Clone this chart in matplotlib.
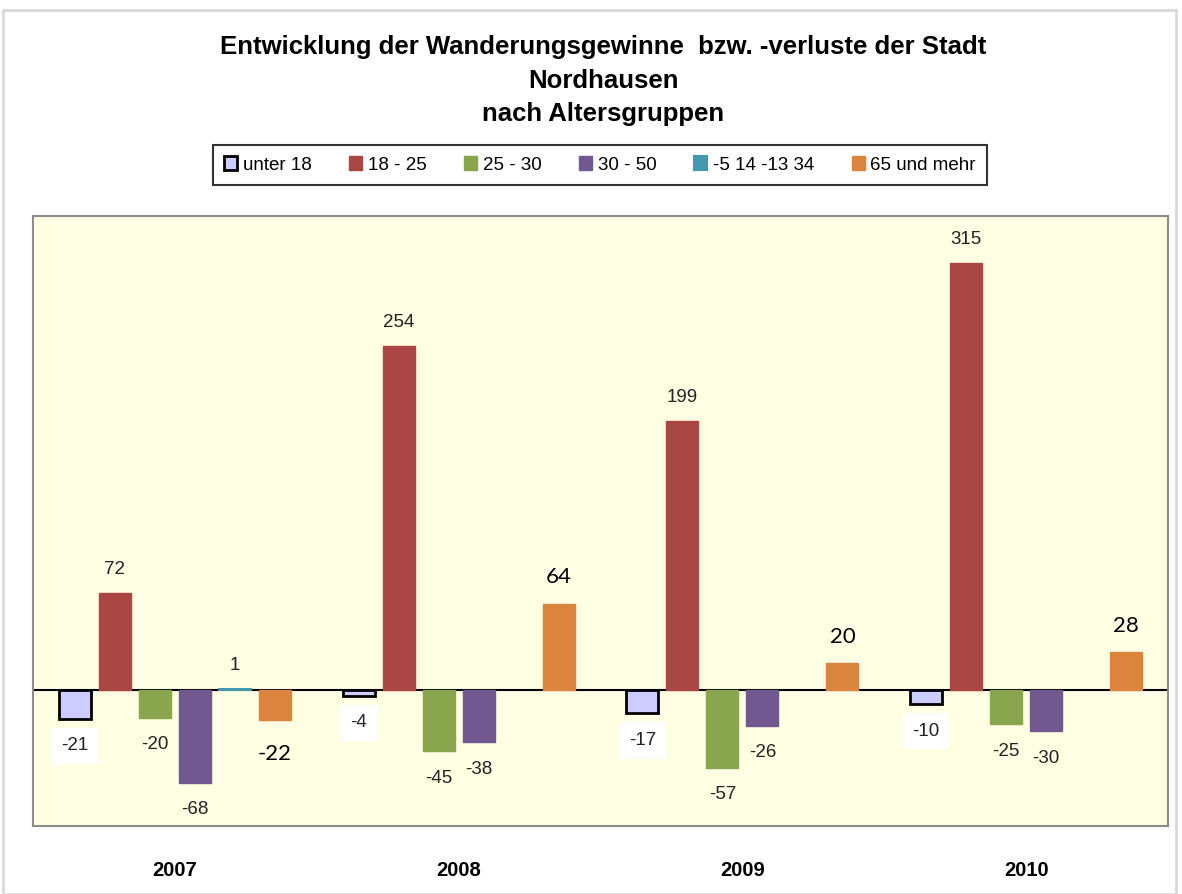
import numpy as np
import matplotlib.pyplot as plt
from matplotlib.patches import Rectangle

# Daten
jahre = ['2007', '2008', '2009', '2010']
gruppen = ['unter 18', '18 - 25', '25 - 30', '30 - 50', '-5 14 -13 34', '65 und mehr']
unter18 = [-21, -4, -17, -10]
g18_25 = [72, 254, 199, 315]
g25_30 = [-20, -45, -57, -25]
g30_50 = [-68, -38, -26, -30]
g_teal = [1, np.nan, np.nan, np.nan]
g65 = [-22, 64, 20, 28]
werte = [unter18, g18_25, g25_30, g30_50, g_teal, g65]

farben = ['#CCCCFF', '#AA4643', '#89A54E', '#71588F', '#4198AF', '#DB843D']

fig = plt.figure(figsize=(11.82, 8.94), dpi=100)
ax = fig.add_axes([33/1182, 1-826/894, (1168-33)/1182, (826-216)/894])
ax.set_facecolor('#FFFFE3')

# Rahmen um die ganze Grafik
fig.patches.append(Rectangle((3/1182, 0), 1173/1182, 1-10/894, transform=fig.transFigure,
                             fill=False, edgecolor='#D9D9D9', linewidth=2))

x = np.arange(len(jahre))
schritt = 0.141
breite = 0.113
for i, (name, w, c) in enumerate(zip(gruppen, werte, farben)):
    pos = x + (i - 2.5) * schritt
    w = np.array(w, dtype=float)
    if i == 0:
        ax.bar(pos, w, breite, color=c, edgecolor='black', linewidth=2, label=name, zorder=3)
    else:
        ax.bar(pos, w, breite, color=c, edgecolor=c, linewidth=1.5 if i == 4 else 1,
               label=name, zorder=3)
    for xp, v in zip(pos, w):
        if np.isnan(v):
            continue
        if i == 5:
            kw = dict(fontsize=16, family='Lato', color='black')
            off = 19 if v > 0 else -24
        else:
            kw = dict(fontsize=13.5, family='Liberation Sans', color='#222222')
            off = 17 if v > 0 else -19.5
        if i == 0:
            kw['bbox'] = dict(facecolor='white', edgecolor='none', pad=7)
        ax.annotate(f'{int(v)}', (xp, v), xytext=(0, off), textcoords='offset points',
                    ha='center', va='center', zorder=4, **kw)

ax.axhline(0, color='black', linewidth=1.5, zorder=2.5)
ax.set_xlim(-0.5, 3.5)
ax.set_ylim(-100, 350)
ax.set_yticks([])
ax.set_xticks(x)
ax.set_xticklabels(jahre, fontsize=14.5, fontweight='bold', family='Liberation Sans')
ax.tick_params(axis='x', length=0, pad=25)
for s in ax.spines.values():
    s.set_color('#8C8C8C')
    s.set_linewidth(1.5)

fig.text(603/1182, 1-35/894, 'Entwicklung der Wanderungsgewinne  bzw. -verluste der Stadt\nNordhausen\nnach Altersgruppen',
         ha='center', va='top', fontsize=18.5, fontweight='bold', family='Liberation Sans',
         linespacing=1.5)

leg = fig.legend(loc='center', bbox_to_anchor=(600/1182, 1-165/894), ncol=6, frameon=True,
                 fancybox=False, edgecolor='black', handlelength=0.7,
                 handleheight=0.7, handletextpad=0.3, columnspacing=2.0, borderpad=0.6,
                 prop={'family': 'Liberation Sans', 'size': 13.5})
leg.get_frame().set_linewidth(1.5)

fig.savefig('out.png', dpi=100)
